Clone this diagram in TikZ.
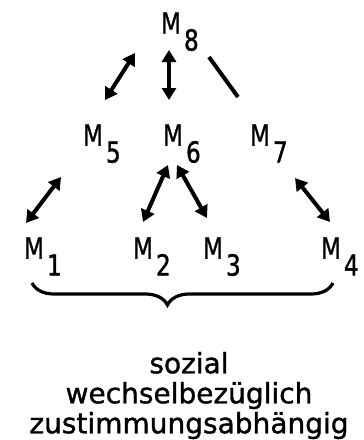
\documentclass[tikz,border=0pt]{standalone}
\usepackage{fontspec}
\setmainfont{DejaVu Sans}[FakeBold=1.2]
\newfontfamily\mfont{DejaVu Sans}[FakeBold=1.2, FakeStretch=0.8]
\usetikzlibrary{arrows.meta, calc, decorations.pathreplacing}
\newcommand{\msub}[1]{M\rlap{\kern3pt\raisebox{-17pt}[0pt][0pt]{#1}}}

\begin{document}
\begin{tikzpicture}[x=1pt, y=-1pt, <->, >={Triangle[length=12pt,width=14pt]}, line width=4pt,
  mlab/.style={font=\mfont\fontsize{29}{29}\selectfont, inner sep=0pt}]
  \useasboundingbox (0,0) rectangle (364,440);
  % top
  \node[mlab] (m8) at (171,23) {\msub{8}};
  % middle row
  \node[mlab] (m5) at (93,135) {\msub{5}};
  \node[mlab] (m6) at (173,135) {\msub{6}};
  \node[mlab] (m7) at (260,135) {\msub{7}};
  % bottom row
  \node[mlab] (m1) at (34,248) {\msub{1}};
  \node[mlab] (m2) at (143,248) {\msub{2}};
  \node[mlab] (m3) at (213,248) {\msub{3}};
  \node[mlab] (m4) at (331,248) {\msub{4}};
  \draw ($(m5)+(12,-35)$) -- ($(m8)+(-36,30)$);
  \draw ($(m6)+(-4,-35)$) -- ($(m8)+(-2,27)$);
  \draw[-] ($(m7)+(-22,-38)$) -- ($(m8)+(38,34)$);
  \draw ($(m1)+(-8,-25)$) -- ($(m5)+(-32,42)$);
  \draw ($(m2)+(0,-26)$) -- ($(m6)+(-5,30)$);
  \draw ($(m3)+(-6,-30)$) -- ($(m6)+(4,30)$);
  \draw ($(m4)+(-1,-26)$) -- ($(m7)+(35,43)$);
  \draw[-, line width=3.2pt, decorate, decoration={brace, mirror, amplitude=22pt, aspect=0.45}]
    ($(m1)+(-2,35)$) -- ($(m4)+(2,35)$);
  \node[align=center, inner sep=0pt, anchor=north, font=\fontsize{28}{30}\selectfont] (txt)
    at (189,350) {sozial\\wechselbezüglich\\zustimmungsabhängig};
\end{tikzpicture}
\end{document}
